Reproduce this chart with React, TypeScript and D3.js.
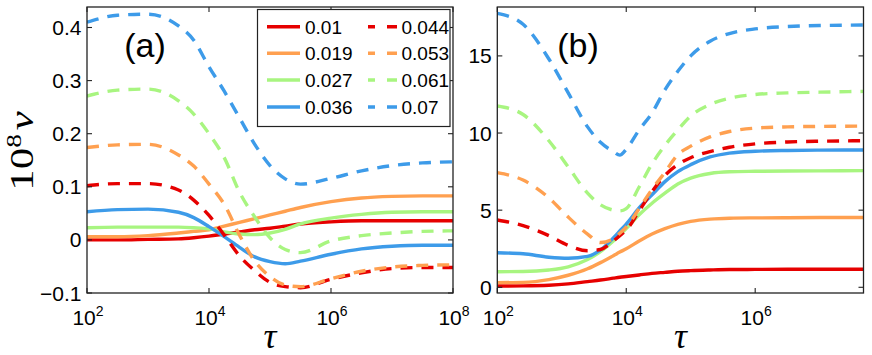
import React from "react";
import * as d3 from "d3";

// legend parameters
const PARAMS = ["0.01", "0.019", "0.027", "0.036", "0.044", "0.053", "0.061", "0.07"];
const COLORS = ["#e60000", "#ffa050", "#a8f580", "#3d9be9"];

// ---- panel (a): log10(tau) grid and series values (1e8 v)
const tauExpA = [2, 2.5, 3, 3.5, 3.75, 4, 4.25, 4.5, 4.75, 5, 5.25, 5.5, 6, 6.5, 7, 7.5, 8];
const a001 = [0.0, 0.0, 0.001, 0.002, 0.004, 0.007, 0.011, 0.015, 0.019, 0.022, 0.026, 0.03, 0.034, 0.036, 0.036, 0.036, 0.036];
const a019 = [0.006, 0.006, 0.008, 0.013, 0.016, 0.019, 0.026, 0.033, 0.04, 0.047, 0.054, 0.061, 0.072, 0.079, 0.082, 0.083, 0.083];
const a027 = [0.023, 0.024, 0.024, 0.024, 0.023, 0.021, 0.015, 0.011, 0.01, 0.013, 0.02, 0.03, 0.041, 0.048, 0.052, 0.053, 0.053];
const a036 = [0.053, 0.057, 0.058, 0.052, 0.042, 0.025, 0.006, -0.014, -0.032, -0.041, -0.045, -0.04, -0.027, -0.017, -0.012, -0.01, -0.01];
const a044 = [0.102, 0.106, 0.106, 0.094, 0.075, 0.046, 0.009, -0.03, -0.058, -0.08, -0.088, -0.09, -0.074, -0.062, -0.054, -0.052, -0.052];
const a053 = [0.174, 0.179, 0.18, 0.16, 0.139, 0.105, 0.067, 0.009, -0.04, -0.069, -0.085, -0.088, -0.073, -0.059, -0.051, -0.048, -0.047];
const a061 = [0.271, 0.282, 0.284, 0.262, 0.237, 0.2, 0.155, 0.09, 0.043, 0.004, -0.018, -0.024, -0.002, 0.008, 0.013, 0.016, 0.017];
const a070 = [0.41, 0.423, 0.425, 0.403, 0.376, 0.326, 0.28, 0.23, 0.18, 0.14, 0.115, 0.105, 0.116, 0.13, 0.14, 0.145, 0.147];

// ---- panel (b)
const tauExpB = [2, 2.4, 2.8, 3.1, 3.4, 3.6, 3.8, 3.9, 4.0, 4.2, 4.4, 4.6, 4.8, 5.0, 5.3, 5.6, 6.0, 6.5, 7.0, 7.68];
const b001 = [0.08, 0.09, 0.13, 0.22, 0.37, 0.47, 0.59, 0.65, 0.7, 0.8, 0.9, 0.97, 1.04, 1.08, 1.12, 1.15, 1.16, 1.17, 1.17, 1.17];
const b019 = [0.3, 0.32, 0.5, 0.78, 1.2, 1.6, 2.05, 2.28, 2.5, 3.0, 3.45, 3.8, 4.08, 4.27, 4.42, 4.48, 4.5, 4.51, 4.52, 4.52];
const b027 = [1.01, 1.02, 1.12, 1.33, 1.8, 2.31, 3.0, 3.38, 3.8, 4.7, 5.45, 6.1, 6.7, 7.08, 7.38, 7.49, 7.52, 7.54, 7.55, 7.56];
const b036 = [2.24, 2.17, 1.95, 1.88, 2.0, 2.42, 3.2, 3.65, 4.1, 5.15, 6.0, 6.85, 7.5, 7.95, 8.45, 8.7, 8.82, 8.87, 8.89, 8.9];
const b044 = [4.36, 4.0, 3.35, 2.72, 2.37, 2.45, 3.0, 3.35, 3.7, 4.95, 6.2, 7.25, 7.95, 8.4, 8.8, 9.08, 9.3, 9.42, 9.47, 9.5];
const b053 = [7.43, 6.95, 5.8, 4.55, 3.45, 2.9, 3.15, 3.5, 3.9, 5.1, 6.35, 7.45, 8.6, 9.15, 9.75, 10.1, 10.32, 10.4, 10.43, 10.45];
const b061 = [11.75, 11.2, 9.5, 7.8, 6.1, 5.35, 5.0, 4.95, 5.1, 6.5, 8.0, 9.2, 10.2, 11.1, 11.85, 12.25, 12.5, 12.6, 12.65, 12.7];
const b070 = [17.76, 17.05, 14.8, 12.6, 10.4, 9.4, 8.8, 8.57, 8.95, 10.2, 11.3, 12.8, 14.0, 15.0, 15.95, 16.45, 16.75, 16.9, 16.97, 17.0];

// ticks
const yTicksA = [-0.1, 0, 0.1, 0.2, 0.3, 0.4];
const yTicksB = [0, 5, 10, 15];
const xTickExpA = [2, 4, 6, 8];
const xTickExpB = [2, 4, 6];

const SANS = "'Liberation Sans', Arial, Helvetica, sans-serif";
const SERIF = "'Liberation Serif', 'Times New Roman', serif";
const AXIS = "#222";

type PanelProps = {
  id: string;
  left: number;
  right: number;
  top: number;
  bottom: number;
  xMaxExp: number;
  yDomain: [number, number];
  tauExp: number[];
  series: number[][];
  yTicks: number[];
  yFmt: (v: number) => string;
  xTickExps: number[];
  label: string;
  labelX: number;
};

function Panel(p: PanelProps) {
  const x = d3.scaleLog().domain([1e2, Math.pow(10, p.xMaxExp)]).range([p.left, p.right]);
  const y = d3.scaleLinear().domain(p.yDomain).range([p.bottom, p.top]);
  const line = d3
    .line<[number, number]>()
    .x((d) => x(Math.pow(10, d[0])))
    .y((d) => y(d[1]))
    .curve(d3.curveMonotoneX);
  const tl = 5;
  const cx = (p.left + p.right) / 2;
  return (
    <g>
      <defs>
        <clipPath id={p.id}>
          <rect x={p.left} y={p.top} width={p.right - p.left} height={p.bottom - p.top} />
        </clipPath>
      </defs>
      <g clipPath={`url(#${p.id})`}>
        {p.series.map((vals, i) => (
          <path
            key={i}
            d={line(p.tauExp.map((e, j) => [e, vals[j]] as [number, number])) || ""}
            fill="none"
            stroke={COLORS[i % 4]}
            strokeWidth={3.4}
            strokeDasharray={i >= 4 ? "12,9" : undefined}
            strokeLinejoin="round"
          />
        ))}
      </g>
      {/* box */}
      <rect
        x={p.left}
        y={p.top}
        width={p.right - p.left}
        height={p.bottom - p.top}
        fill="none"
        stroke={AXIS}
        strokeWidth={1.3}
      />
      {/* y ticks */}
      {p.yTicks.map((t) => (
        <g key={"y" + t}>
          <line x1={p.left} x2={p.left + tl} y1={y(t)} y2={y(t)} stroke={AXIS} strokeWidth={1.1} />
          <line x1={p.right} x2={p.right - tl} y1={y(t)} y2={y(t)} stroke={AXIS} strokeWidth={1.1} />
          <text
            x={p.left - 5.5}
            y={y(t)}
            dy="0.36em"
            textAnchor="end"
            fontFamily={SANS}
            fontSize={21}
            fill="#000"
          >
            {p.yFmt(t)}
          </text>
        </g>
      ))}
      {/* x ticks */}
      {p.xTickExps.map((e) => {
        const xx = x(Math.pow(10, e));
        return (
          <g key={"x" + e}>
            <line x1={xx} x2={xx} y1={p.bottom} y2={p.bottom - tl} stroke={AXIS} strokeWidth={1.1} />
            <line x1={xx} x2={xx} y1={p.top} y2={p.top + tl} stroke={AXIS} strokeWidth={1.1} />
            <text x={xx + 1} y={325} textAnchor="middle" fontFamily={SANS} fontSize={21} fill="#000">
              10
              <tspan dy={-9} fontSize={14}>
                {String(e)}
              </tspan>
            </text>
          </g>
        );
      })}
      {/* panel label */}
      <text x={p.labelX} y={57} textAnchor="middle" fontFamily={SANS} fontSize={34} fill="#000">
        {p.label}
      </text>
      {/* x axis label */}
      <text
        x={cx}
        y={348}
        textAnchor="middle"
        fontFamily={SERIF}
        fontStyle="italic"
        fontSize={36}
        fill="#000"
      >
        τ
      </text>
    </g>
  );
}

function Legend() {
  const left = 257.5;
  const right = 450;
  const top = 9.5;
  const bottom = 126.5;
  const rowY = [26.7, 53.3, 80, 107];
  return (
    <g>
      <rect x={left} y={top} width={right - left} height={bottom - top} fill="#fff" stroke={AXIS} strokeWidth={1.2} />
      {PARAMS.map((p, i) => {
        const col = i < 4 ? 0 : 1;
        const r = i % 4;
        const lx1 = col === 0 ? 267 : 368;
        const lx2 = col === 0 ? 300 : 397;
        const tx = col === 0 ? 305 : 401.5;
        return (
          <g key={p}>
            <line
              x1={lx1}
              x2={lx2}
              y1={rowY[r]}
              y2={rowY[r]}
              stroke={COLORS[r]}
              strokeWidth={3.4}
              strokeDasharray={col === 1 ? "7,12,10" : undefined}
            />
            <text x={tx} y={rowY[r]} dy="0.36em" fontFamily={SANS} fontSize={19} fill="#000">
              {p}
            </text>
          </g>
        );
      })}
    </g>
  );
}

export default function App() {
  const seriesA = [a001, a019, a027, a036, a044, a053, a061, a070];
  const seriesB = [b001, b019, b027, b036, b044, b053, b061, b070];
  return (
    <svg
      width={872}
      height={355}
      viewBox="0 0 872 355"
      style={{ position: "absolute", left: 0, top: 0, background: "#fff" }}
    >
      <rect x={0} y={0} width={872} height={355} fill="#fff" />
      <Panel
        id="clipA"
        left={87}
        right={453}
        top={7}
        bottom={293}
        xMaxExp={8}
        yDomain={[-0.1, 0.4386]}
        tauExp={tauExpA}
        series={seriesA}
        yTicks={yTicksA}
        yFmt={(v) => (v < 0 ? "\u2212" + String(Math.abs(v)) : String(v))}
        xTickExps={xTickExpA}
        label="(a)"
        labelX={145}
      />
      <Panel
        id="clipB"
        left={497.3}
        right={863.5}
        top={7}
        bottom={293}
        xMaxExp={7.68}
        yDomain={[-0.37, 18.17]}
        tauExp={tauExpB}
        series={seriesB}
        yTicks={yTicksB}
        yFmt={(v) => String(v)}
        xTickExps={xTickExpB}
        label="(b)"
        labelX={578}
      />
      <Legend />
      {/* y axis label */}
      <g transform="translate(33,151) rotate(-90) scale(1.3,1)">
        <text x={0} y={0} textAnchor="middle" fontFamily={SERIF} fontSize={33} fill="#000">
          10
          <tspan dy={-12} fontSize={21}>
            8
          </tspan>
          <tspan dy={12} dx={3} fontStyle="italic">
            v
          </tspan>
        </text>
      </g>
    </svg>
  );
}
